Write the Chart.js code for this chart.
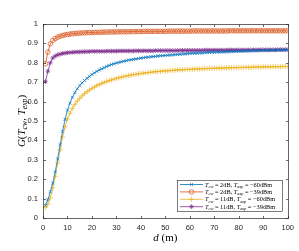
<!DOCTYPE html>
<html>
<head>
<meta charset="utf-8">
<script src="https://cdn.jsdelivr.net/npm/chart.js@4.4.1/dist/chart.umd.min.js"></script>
<style>
  html, body { margin: 0; padding: 0; background: #fff; }
  canvas { display: block; }
</style>
</head>
<body>
<canvas id="chart" width="299" height="251"></canvas>
<script>
// distance d (m), one sample per metre
const distances = Array.from({ length: 100 }, (_, i) => i + 1);

const xTicks = [0, 10, 20, 30, 40, 50, 60, 70, 80, 90, 100];
const yTicks = [0, 0.1, 0.2, 0.3, 0.4, 0.5, 0.6, 0.7, 0.8, 0.9, 1];

// T_cw = 2dB, T_exp = -60dBm
const gainBlue = [
  0.065, 0.095, 0.135, 0.180, 0.238, 0.305, 0.378, 0.447, 0.508, 0.556,
  0.592, 0.622, 0.646, 0.666, 0.683, 0.697, 0.709, 0.720, 0.730, 0.740,
  0.748, 0.756, 0.763, 0.769, 0.775, 0.781, 0.786, 0.791, 0.795, 0.799,
  0.802, 0.805, 0.808, 0.811, 0.814, 0.816, 0.818, 0.820, 0.822, 0.824,
  0.826, 0.828, 0.829, 0.831, 0.832, 0.833, 0.835, 0.836, 0.837, 0.838,
  0.839, 0.840, 0.841, 0.842, 0.843, 0.844, 0.845, 0.846, 0.847, 0.848,
  0.849, 0.849, 0.850, 0.851, 0.851, 0.852, 0.853, 0.853, 0.854, 0.854,
  0.855, 0.855, 0.856, 0.856, 0.857, 0.857, 0.858, 0.858, 0.859, 0.859,
  0.860, 0.860, 0.861, 0.861, 0.862, 0.862, 0.862, 0.863, 0.863, 0.864,
  0.864, 0.864, 0.865, 0.865, 0.865, 0.866, 0.866, 0.866, 0.867, 0.867
];

// T_cw = 2dB, T_exp = -39dBm
const gainOrange = [
  0.795, 0.855, 0.898, 0.915, 0.925, 0.932, 0.937, 0.941, 0.944, 0.946,
  0.948, 0.950, 0.951, 0.952, 0.953, 0.954, 0.955, 0.955, 0.956, 0.956,
  0.957, 0.957, 0.957, 0.958, 0.958, 0.958, 0.959, 0.959, 0.959, 0.959,
  0.960, 0.960, 0.960, 0.960, 0.960, 0.961, 0.961, 0.961, 0.961, 0.961,
  0.962, 0.962, 0.962, 0.962, 0.962, 0.962, 0.962, 0.962, 0.962, 0.962,
  0.963, 0.963, 0.963, 0.963, 0.963, 0.963, 0.963, 0.963, 0.963, 0.963,
  0.964, 0.964, 0.964, 0.964, 0.964, 0.964, 0.964, 0.964, 0.964, 0.964,
  0.964, 0.964, 0.964, 0.964, 0.964, 0.965, 0.965, 0.965, 0.965, 0.965,
  0.965, 0.965, 0.965, 0.965, 0.965, 0.965, 0.965, 0.965, 0.965, 0.965,
  0.965, 0.965, 0.965, 0.965, 0.965, 0.965, 0.965, 0.965, 0.965, 0.965
];

// T_cw = 11dB, T_exp = -60dBm
const gainYellow = [
  0.055, 0.072, 0.105, 0.155, 0.215, 0.283, 0.352, 0.418, 0.470, 0.510,
  0.540, 0.565, 0.586, 0.603, 0.617, 0.630, 0.641, 0.651, 0.660, 0.668,
  0.675, 0.682, 0.688, 0.694, 0.699, 0.704, 0.708, 0.712, 0.716, 0.720,
  0.723, 0.726, 0.729, 0.732, 0.734, 0.737, 0.739, 0.741, 0.743, 0.745,
  0.747, 0.748, 0.750, 0.751, 0.753, 0.754, 0.755, 0.756, 0.757, 0.758,
  0.759, 0.760, 0.761, 0.762, 0.763, 0.764, 0.764, 0.765, 0.766, 0.766,
  0.767, 0.768, 0.768, 0.769, 0.769, 0.770, 0.770, 0.771, 0.771, 0.772,
  0.772, 0.773, 0.773, 0.773, 0.774, 0.774, 0.775, 0.775, 0.775, 0.776,
  0.776, 0.776, 0.777, 0.777, 0.777, 0.778, 0.778, 0.778, 0.778, 0.779,
  0.779, 0.779, 0.779, 0.780, 0.780, 0.780, 0.780, 0.781, 0.781, 0.781
];

// T_cw = 11dB, T_exp = -39dBm
const gainPurple = [
  0.703, 0.757, 0.800, 0.825, 0.835, 0.841, 0.845, 0.848, 0.850, 0.852,
  0.853, 0.854, 0.855, 0.856, 0.856, 0.857, 0.857, 0.858, 0.858, 0.859,
  0.859, 0.859, 0.859, 0.859, 0.859, 0.860, 0.860, 0.860, 0.860, 0.860,
  0.861, 0.861, 0.861, 0.861, 0.861, 0.861, 0.861, 0.862, 0.862, 0.862,
  0.862, 0.862, 0.862, 0.862, 0.862, 0.863, 0.863, 0.863, 0.863, 0.863,
  0.863, 0.863, 0.863, 0.863, 0.863, 0.864, 0.864, 0.864, 0.864, 0.864,
  0.864, 0.864, 0.864, 0.864, 0.864, 0.865, 0.865, 0.865, 0.865, 0.865,
  0.865, 0.865, 0.865, 0.865, 0.865, 0.866, 0.866, 0.866, 0.866, 0.866,
  0.866, 0.866, 0.866, 0.866, 0.866, 0.867, 0.867, 0.867, 0.867, 0.867,
  0.867, 0.867, 0.867, 0.867, 0.867, 0.868, 0.868, 0.868, 0.868, 0.868
];

const legendRows = [
  { cw: '2dB', exp: '\u221260dBm' },
  { cw: '2dB', exp: '\u221239dBm' },
  { cw: '11dB', exp: '\u221260dBm' },
  { cw: '11dB', exp: '\u221239dBm' }
];

const AXIS_COLOR = '#262626';
const SERIF = '"Liberation Serif", "DejaVu Serif", serif';

const toPoints = values => values.map((v, i) => ({ x: distances[i], y: v }));

const makeSet = (values, color, style, radius) => ({
  data: toPoints(values),
  borderColor: color,
  backgroundColor: 'rgba(0,0,0,0)',
  borderWidth: 0.8,
  pointStyle: style,
  pointRadius: radius,
  pointBorderColor: color,
  pointBackgroundColor: 'rgba(0,0,0,0)',
  pointBorderWidth: 0.7,
  tension: 0
});

const datasets = [
  makeSet(gainBlue, '#0072BD', 'crossRot', 2.2),
  makeSet(gainOrange, '#D95319', 'circle', 2.3),
  makeSet(gainYellow, '#EDB120', 'cross', 2.6),
  makeSet(gainPurple, '#7E2F8E', 'star', 2.4)
];

// draws a math-like label: parts are [text, kind], kind i = italic, s = subscript, r = roman
const drawMath = (ctx, parts, x, y, size, measureOnly = false) => {
  let cx = x;
  for (const [text, kind] of parts) {
    const sub = kind === 's';
    const fs = sub ? size * 0.7 : size;
    ctx.font = `${kind === 'r' ? '' : 'italic '}${fs}px ${SERIF}`;
    if (!measureOnly) {
      ctx.fillText(text, cx, sub ? y + size * 0.22 : y);
    }
    cx += ctx.measureText(text).width;
  }
  return cx - x;
};

const rowParts = row => [
  ['T', 'i'], ['cw', 's'], [` = ${row.cw}, `, 'r'],
  ['T', 'i'], ['exp', 's'], [` = ${row.exp}`, 'r']
];

const decorPlugin = {
  id: 'decor',
  afterDraw(chart) {
    const { ctx, chartArea: a, scales } = chart;
    ctx.save();

    // box and inward ticks, Matlab style
    ctx.strokeStyle = AXIS_COLOR;
    ctx.lineWidth = 0.7;
    const L = Math.round(a.left) + 0.5;
    const R = Math.round(a.right) + 0.5;
    const T = Math.round(a.top) + 0.5;
    const B = Math.round(a.bottom) + 0.5;
    ctx.strokeRect(L, T, R - L, B - T);

    ctx.beginPath();
    for (const v of xTicks) {
      const px = Math.round(scales.x.getPixelForValue(v)) + 0.5;
      ctx.moveTo(px, B); ctx.lineTo(px, B - 2.5);
      ctx.moveTo(px, T); ctx.lineTo(px, T + 2.5);
    }
    for (const v of yTicks) {
      const py = Math.round(scales.y.getPixelForValue(v)) + 0.5;
      ctx.moveTo(L, py); ctx.lineTo(L + 2.5, py);
      ctx.moveTo(R, py); ctx.lineTo(R - 2.5, py);
    }
    ctx.stroke();

    // axis titles
    ctx.fillStyle = '#000';
    ctx.textBaseline = 'alphabetic';
    ctx.textAlign = 'left';
    const xParts = [['d', 'i'], [' (m)', 'r']];
    const xw = drawMath(ctx, xParts, 0, 0, 11, true);
    drawMath(ctx, xParts, (a.left + a.right) / 2 - xw / 2, 241, 11);

    const yParts = [
      ['G', 'i'], ['(', 'r'], ['T', 'i'], ['cw', 's'], [', ', 'r'],
      ['T', 'i'], ['exp', 's'], [')', 'r']
    ];
    const yw = drawMath(ctx, yParts, 0, 0, 11, true);
    ctx.save();
    ctx.translate(25, (a.top + a.bottom) / 2);
    ctx.rotate(-Math.PI / 2);
    drawMath(ctx, yParts, -yw / 2, 0, 11);
    ctx.restore();

    // legend box
    const bx = 177, by = 180, bw = 105, bh = 31;
    ctx.fillStyle = '#fff';
    ctx.fillRect(bx, by, bw, bh);
    ctx.lineWidth = 0.6;
    ctx.strokeStyle = AXIS_COLOR;
    ctx.strokeRect(bx + 0.5, by + 0.5, bw, bh);

    legendRows.forEach((row, i) => {
      const ds = datasets[i];
      const ry = by + 4.5 + i * 7.4;
      ctx.strokeStyle = ds.borderColor;
      ctx.lineWidth = 0.8;
      ctx.beginPath();
      ctx.moveTo(bx + 3, ry);
      ctx.lineTo(bx + 26, ry);
      ctx.stroke();
      ctx.fillStyle = 'rgba(0,0,0,0)';
      ctx.lineWidth = ds.pointBorderWidth;
      Chart.helpers.drawPoint(ctx, {
        pointStyle: ds.pointStyle,
        radius: ds.pointRadius,
        rotation: 0,
        borderWidth: ds.pointBorderWidth
      }, bx + 14.5, ry);
      ctx.fillStyle = '#000';
      drawMath(ctx, rowParts(row), bx + 28, ry + 2, 6.3);
    });

    ctx.restore();
  }
};

new Chart(document.getElementById('chart'), {
  type: 'line',
  data: { datasets },
  options: {
    responsive: false,
    animation: false,
    devicePixelRatio: 1,
    layout: { padding: { top: 24, right: 11, left: 0, bottom: 0 } },
    plugins: {
      legend: { display: false },
      tooltip: { enabled: false }
    },
    scales: {
      x: {
        type: 'linear',
        min: 0,
        max: 100,
        afterFit: s => { s.height = 33; },
        afterBuildTicks: s => { s.ticks = xTicks.map(v => ({ value: v })); },
        grid: { display: false, drawTicks: false },
        border: { display: false },
        ticks: {
          padding: 5,
          maxRotation: 0,
          color: AXIS_COLOR,
          font: { family: '"Liberation Sans", Arial, sans-serif', size: 7.5 }
        }
      },
      y: {
        type: 'linear',
        min: 0,
        max: 1,
        afterFit: s => { s.width = 43; },
        afterBuildTicks: s => { s.ticks = yTicks.map(v => ({ value: v })); },
        grid: { display: false, drawTicks: false },
        border: { display: false },
        ticks: {
          padding: 5,
          color: AXIS_COLOR,
          callback: v => String(Math.round(v * 10) / 10),
          font: { family: '"Liberation Sans", Arial, sans-serif', size: 7.5 }
        }
      }
    }
  },
  plugins: [decorPlugin]
});
</script>
</body>
</html>
